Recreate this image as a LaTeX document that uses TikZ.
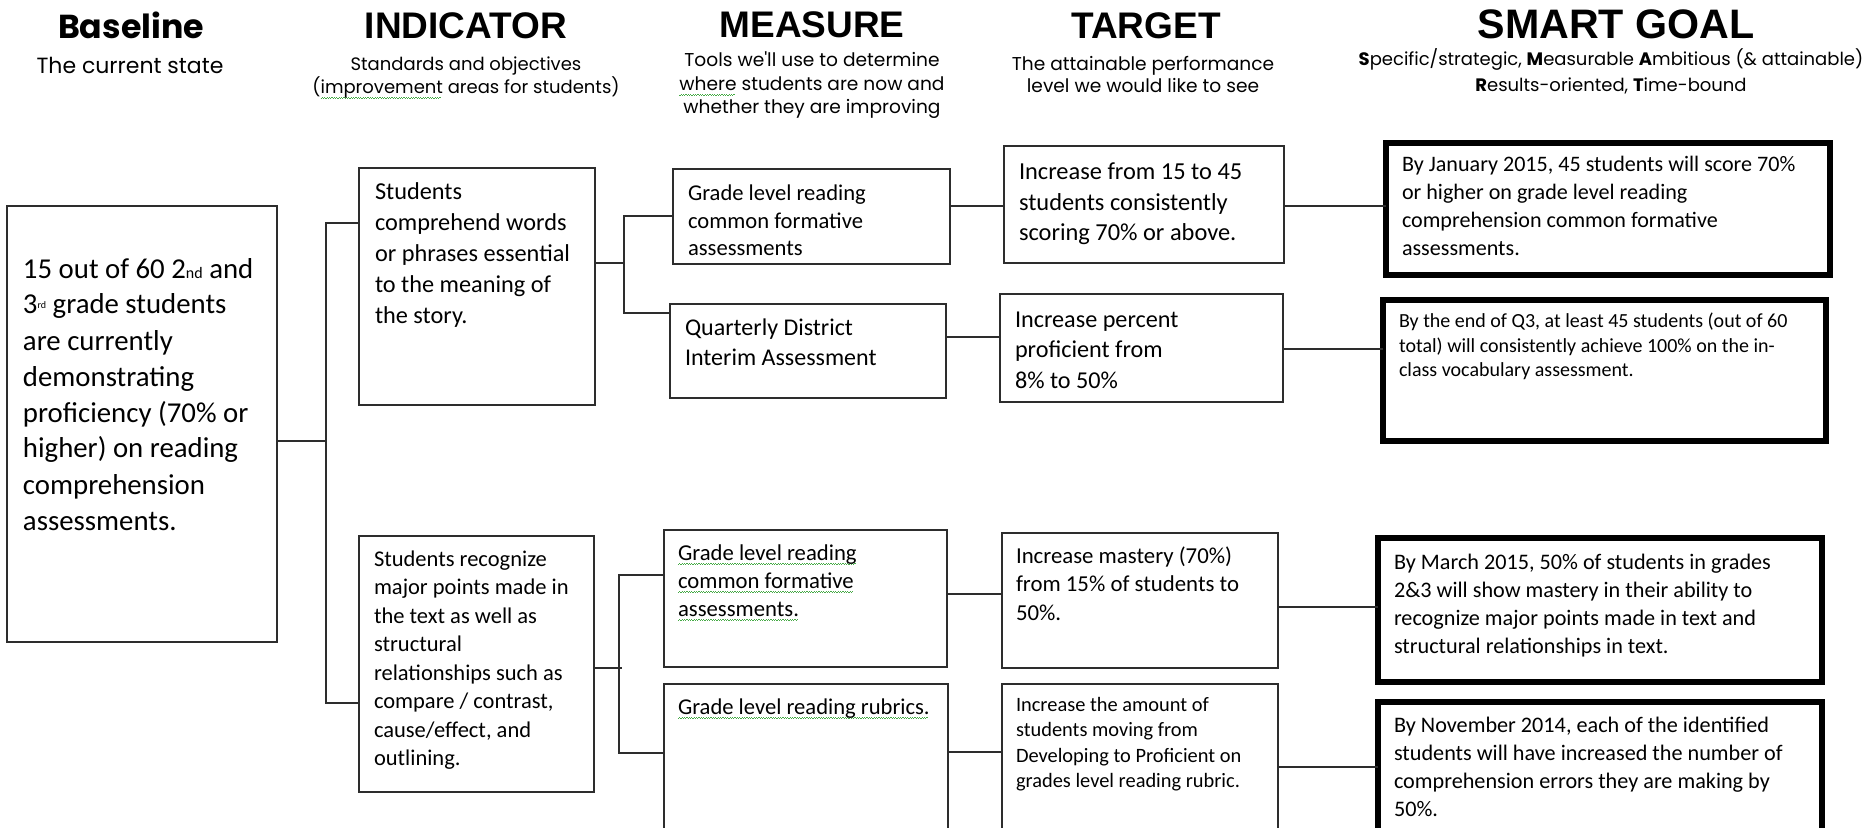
\documentclass[tikz,border=0pt]{standalone}
\usepackage{fontspec}
\setmainfont{Carlito}
\newfontfamily\hdfont{Liberation Sans}
\newfontfamily\gothfont{Poppins}
\usetikzlibrary{fit}
\definecolor{sqgreen}{RGB}{70,170,70}
\definecolor{lnc}{RGB}{45,45,45}
\newsavebox\sqbox
\newcommand\gsq[1]{\sbox\sqbox{#1}\rlap{\color{sqgreen}\leaders\hbox{\rule[-2.6pt]{0.6pt}{0.45pt}\rule[-2.1pt]{0.6pt}{0.45pt}}\hskip\wd\sqbox}\usebox\sqbox}
\begin{document}
\begin{tikzpicture}[x=0.5pt,y=-0.5pt,
  bx/.style={draw=lnc, line width=1pt, rectangle, inner sep=0pt, outer sep=0pt},
  gbx/.style={bx, draw=black, line width=2.6pt},
  txt/.style={inner sep=0pt, outer sep=0pt, anchor=base west, align=left, text=black},
  con/.style={draw=lnc, line width=0.8pt},
  hd/.style={inner sep=0pt, anchor=base, font=\hdfont\bfseries\fontsize{18.5}{20}\selectfont},
  sub/.style={inner sep=0pt, anchor=base, align=center}]
\useasboundingbox (0,0) rectangle (1873,828);
\fill[white] (0,0) rectangle (1873,828);
\clip (0,0) rectangle (1873,828);

% ---------- headers (base anchor = last line) ----------
\node[inner sep=0pt, anchor=base, font=\gothfont\bfseries\fontsize{16.6}{18}\selectfont] (hbase) at (131,39) {Baseline};
\node[sub, font=\gothfont\fontsize{11}{12}\selectfont] (sbase) at (130,74) {The current state};
\node[hd] (hind) at (466,39) {INDICATOR};
\node[sub, font=\gothfont\fontsize{9}{10}\selectfont] (sind) at (466,94) {Standards and objectives\\(\gsq{improvement} areas for students)};
\node[hd] (hmeas) at (812,38) {MEASURE};
\node[sub, font=\gothfont\fontsize{9.3}{11.8}\selectfont] (smeas) at (812,114) {Tools we'll use to determine\\\gsq{where} students are now and\\whether they are improving};
\node[hd] (htar) at (1146,39) {TARGET};
\node[sub, font=\gothfont\fontsize{9.3}{11}\selectfont] (star) at (1143,93) {The attainable performance\\level we would like to see};
\node[hd, font=\hdfont\bfseries\fontsize{20.6}{22}\selectfont] (hgoal) at (1616,39) {SMART GOAL};
\node[sub, font=\gothfont\fontsize{9}{13}\selectfont] (sgoal) at (1611,92) {\textbf{S}pecific/strategic, \textbf{M}easurable \textbf{A}mbitious (\& attainable)\\\textbf{R}esults-oriented, \textbf{T}ime-bound};

% ---------- boxes ----------
\node[bx, fit={(7,206) (277,642)}] (base) {};
\node[bx, fit={(359,168) (595,405)}] (ind1) {};
\node[bx, fit={(359,536) (594,792)}] (ind2) {};
\node[bx, fit={(673,169) (950,264)}] (meas1) {};
\node[bx, fit={(670,304) (946,398)}] (meas2) {};
\node[bx, fit={(664,530) (947,667)}] (meas3) {};
\node[bx, fit={(664,684) (948,900)}] (meas4) {};
\node[bx, fit={(1004,146) (1284,263)}] (tar1) {};
\node[bx, fit={(1000,294) (1283,402)}] (tar2) {};
\node[bx, fit={(1002,533) (1278,668)}] (tar3) {};
\node[bx, fit={(1002,684) (1278,900)}] (tar4) {};
\node[gbx, fit={(1386,143) (1830,275)}] (goal1) {};
\node[gbx, line width=3pt, fit={(1383,300) (1826,441)}] (goal2) {};
\node[gbx, fit={(1378,538) (1822,682)}] (goal3) {};
\node[gbx, fit={(1378,702) (1822,900)}] (goal4) {};

% ---------- connectors ----------
\coordinate (j0) at (327,441);
\coordinate (t0) at (326,223);
\coordinate (b0) at (326,703);
\draw[con] (base.east |- j0) -- (j0);
\draw[con] (ind1.west |- t0) -- (t0) -- (b0) -- (ind2.west |- b0);

\coordinate (j1) at (624,263);
\coordinate (t1) at (624,216);
\coordinate (b1) at (624,313);
\draw[con] (ind1.east |- j1) -- (j1);
\draw[con] (meas1.west |- t1) -- (t1) -- (b1) -- (meas2.west |- b1);

\coordinate (j2) at (622,668);
\coordinate (t2) at (619,575);
\coordinate (b2) at (619,753);
\draw[con] (ind2.east |- j2) -- (j2);
\draw[con] (meas3.west |- t2) -- (t2) -- (b2) -- (meas4.west |- b2);

\draw[con] (meas1.east |- 0,206) -- (tar1.west |- 0,206);
\draw[con] (meas2.east |- 0,337) -- (tar2.west |- 0,337);
\draw[con] (meas3.east |- 0,594) -- (tar3.west |- 0,594);
\draw[con] (meas4.east |- 0,752) -- (tar4.west |- 0,752);
\draw[con] (tar1.east |- 0,206) -- (goal1.west |- 0,206);
\draw[con] (tar2.east |- 0,349) -- (goal2.west |- 0,349);
\draw[con] (tar3.east |- 0,607) -- (goal3.west |- 0,607);
\draw[con] (tar4.east |- 0,767) -- (goal4.west |- 0,767);

% ---------- texts (base anchor = baseline of last line) ----------
\node[txt, font=\fontsize{14.4}{18}\selectfont] (basetxt) at (23,530)
 {15 out of 60 2{\fontsize{8}{8}\selectfont nd} and\\
  3{\raisebox{3pt}{\fontsize{5}{5}\selectfont rd}} grade students\\
  are currently\\ demonstrating\\ proficiency (70\% or\\ higher) on reading\\ comprehension\\ assessments.};
\node[txt, font=\fontsize{12.15}{15.5}\selectfont] (ind1txt) at (375,324)
 {Students\\ comprehend words\\ or phrases essential\\ to the meaning of\\ the story.};
\node[txt, font=\fontsize{11.25}{14.25}\selectfont] (ind2txt) at (374,765.5)
 {Students recognize\\ major points made in\\ the text as well as\\ structural\\ relationships such as\\ compare / contrast,\\ cause/effect, and\\ outlining.};
\node[txt, font=\fontsize{11.3}{13.75}\selectfont] (meas1txt) at (688,256)
 {Grade level reading\\ common formative\\ assessments};
\node[txt, font=\fontsize{12}{15}\selectfont] (meas2txt) at (685,365)
 {Quarterly District\\ Interim Assessment};
\node[txt, font=\fontsize{11.35}{14}\selectfont] (meas3txt) at (678,616)
 {\gsq{Grade level reading}\\ \gsq{common formative}\\ \gsq{assessments.}};
\node[txt, font=\fontsize{11.3}{14}\selectfont] (meas4txt) at (678,714)
 {\gsq{Grade level reading rubrics.}};
\node[txt, font=\fontsize{12.2}{15.25}\selectfont] (tar1txt) at (1019,241)
 {Increase from 15 to 45\\ students consistently\\ scoring 70\% or above.};
\node[txt, font=\fontsize{12.1}{15}\selectfont] (tar2txt) at (1015,388)
 {Increase percent\\ proficient from\\ 8\% to 50\%};
\node[txt, font=\fontsize{11.4}{14.25}\selectfont] (tar3txt) at (1016,620)
 {Increase mastery (70\%)\\ from 15\% of students to\\ 50\%.};
\node[txt, font=\fontsize{10.2}{12.75}\selectfont] (tar4txt) at (1016,787.5)
 {Increase the amount of\\ students moving from\\ Developing to Proficient on\\ grades level reading rubric.};
\node[txt, font=\fontsize{11.05}{14}\selectfont] (goal1txt) at (1402,256)
 {By January 2015, 45 students will score 70\%\\ or higher on grade level reading\\ comprehension common formative\\ assessments.};
\node[txt, font=\fontsize{10}{12.15}\selectfont] (goal2txt) at (1399,376.6)
 {By the end of Q3, at least 45 students (out of 60\\ total) will consistently achieve 100\% on the in-\\ class vocabulary assessment.};
\node[txt, font=\fontsize{11.1}{13.85}\selectfont] (goal3txt) at (1394,653)
 {By March 2015, 50\% of students in grades\\ 2\&3 will show mastery in their ability to\\ recognize major points made in text and\\ structural relationships in text.};
\node[txt, font=\fontsize{11.1}{14}\selectfont] (goal4txt) at (1394,816)
 {By November 2014, each of the identified\\ students will have increased the number of\\ comprehension errors they are making by\\ 50\%.};
\end{tikzpicture}
\end{document}
